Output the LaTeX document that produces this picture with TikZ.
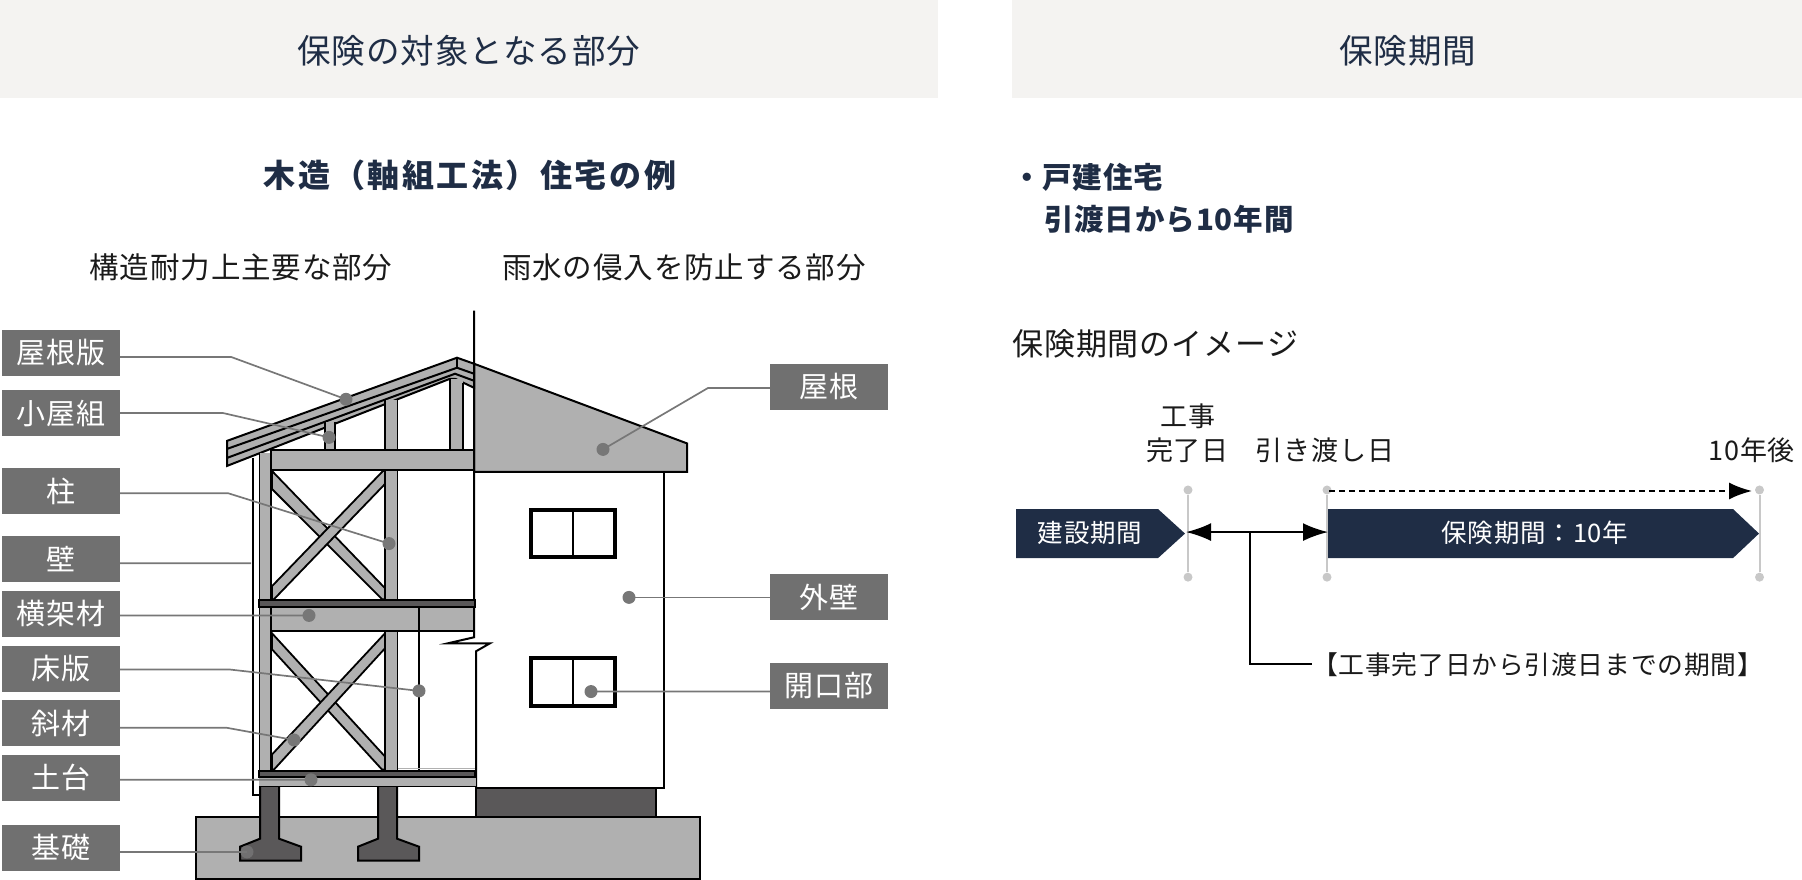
\documentclass[tikz,border=0pt]{standalone}
\usepackage{fontspec}
\usepackage{xcolor}
\usetikzlibrary{arrows.meta}
\setmainfont{Noto Sans CJK JP}
\newfontfamily\jpwide[LetterSpace=8]{Noto Sans CJK JP}
\newfontfamily\jpnarrow[LetterSpace=3]{Noto Sans CJK JP}
\newcommand{\wideat}[1]{\fontsize{#1}{#1}\jpwide}
\newcommand{\narrowat}[1]{\fontsize{#1}{#1}\jpnarrow}
\definecolor{head-bg}{HTML}{F4F3F1}
\definecolor{ink-navy}{HTML}{1F2D45}
\definecolor{ink}{HTML}{1A1A1A}
\definecolor{tag-gray}{HTML}{707070}
\definecolor{lead-gray}{HTML}{777777}
\definecolor{wood}{HTML}{B0B0B0}
\definecolor{concrete}{HTML}{5A5859}
\definecolor{tick-gray}{HTML}{C8C8C8}
\tikzset{
  tag/.style={fill=tag-gray, text=white, minimum width=118pt, minimum height=46pt, inner sep=0pt, font=\narrowat{29}},
  lead/.style={draw=lead-gray, line width=1.7pt},
  leaddot/.style={circle, fill=lead-gray, minimum size=13pt, inner sep=0pt},
  timber/.style={fill=wood, draw=black, line width=2pt, line join=miter},
  stud/.style={fill=wood, draw=none},
  tick/.style={circle, fill=tick-gray, minimum size=9pt, inner sep=0pt},
  term/.style={text=ink, inner sep=0pt, font=\narrowat{27}},
}

\begin{document}
\begin{tikzpicture}[x=1pt, y=-1.002pt, every node/.style={inner sep=0pt}]
    \useasboundingbox (0,0) rectangle (1802,877.25);

    \fill[head-bg] (0,0) rectangle (938,98);
    \fill[head-bg] (1012,0) rectangle (1802,98);
    \node[text=ink-navy, font=\narrowat{33.5}] (head-part) at (469,51) {保険の対象となる部分};
    \node[text=ink-navy, font=\narrowat{33.5}] (head-term) at (1408,51) {保険期間};
    \node[text=ink-navy, font=\wideat{32}\bfseries] (title-wood) at (470,175) {木造（軸組工法）住宅の例};
    \node[text=ink, font=\narrowat{29.5}] (sub-frame) at (241,266.5) {構造耐力上主要な部分};
    \node[text=ink, font=\narrowat{29.5}] (sub-water) at (684,266.5) {雨水の侵入を防止する部分};
    \node[text=ink-navy, anchor=west, font=\narrowat{29.5}\bfseries] (line-house) at (1012,177) {・戸建住宅};
    \node[text=ink-navy, anchor=west, font=\narrowat{29.5}\bfseries] (line-years) at (1044,219) {引渡日から10年間};
    \node[text=ink, anchor=west, font=\narrowat{31}] (image-title) at (1012,343) {保険期間のイメージ};

    % ground and foundation
    \draw[timber] (195.5,815) rectangle (700,877);
    \draw[fill=concrete, draw=black, line width=2pt] (476,786) rectangle (656,815);
    \draw[fill=concrete, draw=black, line width=2pt] (260,785) -- (260,837) -- (240,845) -- (240,859) -- (301,859) -- (301,845) -- (279,837) -- (279,785);
    \draw[fill=concrete, draw=black, line width=2pt] (378,785) -- (378,837) -- (358,845) -- (358,859) -- (419,859) -- (419,845) -- (397,837) -- (397,785);

    % roof and outer wall
    \draw[line width=2pt] (253,457) -- (253,793) -- (260,793);
    \draw[timber] (474,363) -- (687,442.5) -- (687,471) -- (474,471) -- cycle;
    \draw[line width=2pt] (664,471) -- (664,786) -- (476,786);
    \draw[line width=2pt] (474,310) -- (474,636) -- (448,642) -- (490,642) -- (476,650) -- (476,786);

    % rafters
    \draw[timber] (227,440) -- (457,357) -- (474,363) -- (474,387) -- (455,378) -- (450,378) -- (227,465) -- cycle;
    \draw[line width=2pt] (227,448) -- (457,367) -- (474,373);
    \draw[line width=2pt] (227,457) -- (455,373) -- (474,380);
    \draw[line width=1.5pt] (457,357) -- (457,367);

    % posts
    \fill[stud] (325,421) rectangle (335,449);
    \draw[line width=1.5pt] (325,421) -- (325,449) (335,421) -- (335,449);
    \fill[stud] (385,399) rectangle (397,449);
    \draw[line width=1.5pt] (385,399) -- (385,449);
    \draw[line width=1pt] (397,399) -- (397,449);
    \fill[stud] (450,378) rectangle (463,449);
    \draw[line width=1.5pt] (450,378) -- (450,449);
    \draw[line width=1.5pt] (463,382) -- (463,449);
    \fill[stud] (259,452) rectangle (271,785);
    \draw[line width=1pt] (259,452) -- (259,785);
    \fill[stud] (385,469) rectangle (397,768);
    \draw[line width=1pt] (397,469) -- (397,768);

    % braces
    \draw[timber, line width=1.8pt] (272,470) -- (385,587) -- (385,598) -- (382,598) -- (272,488) -- cycle;
    \draw[timber, line width=1.8pt] (272,585) -- (383,470) -- (385,470) -- (385,483) -- (274,598) -- (272,598) -- cycle;
    \draw[timber, line width=1.8pt] (272,632) -- (385,755) -- (385,768) -- (382,768) -- (272,648) -- cycle;
    \draw[timber, line width=1.8pt] (272,753) -- (385,632) -- (385,647) -- (274,768) -- (272,768) -- cycle;

    % beams and sill
    \draw[timber] (271,449) rectangle (474,469);
    \draw[line width=2pt] (271,452) -- (271,785);
    \draw[line width=2pt] (385,469) -- (385,768);
    \draw[timber] (271,606) rectangle (474,630);
    \draw[fill=concrete, draw=black, line width=2pt] (259,598.5) rectangle (475,605.5);
    \draw[line width=1.5pt] (419,606) -- (419,768);
    \draw[draw=wood, line width=1.5pt] (398,767) -- (475,767);
    \fill[wood] (259,775) rectangle (476,785);
    \draw[line width=1.5pt] (259,785) -- (476,785);
    \draw[fill=concrete, draw=black, line width=2pt] (259,769) rectangle (475,775);

    % windows
    \draw[line width=4pt] (531,509) rectangle (615,556);
    \draw[line width=2pt] (573,509) -- (573,556);
    \draw[line width=4pt] (531,657) rectangle (615,705);
    \draw[line width=2pt] (573,657) -- (573,705);

    % labels
    \node[tag] (tag-roofboard) at (61,352.2) {屋根版};
    \node[tag] (tag-truss) at (61,412.2) {小屋組};
    \node[tag] (tag-post) at (61,490.2) {柱};
    \node[tag] (tag-wall) at (61,558.2) {壁};
    \node[tag] (tag-beam) at (61,612.7) {横架材};
    \node[tag] (tag-floor) at (61,667.2) {床版};
    \node[tag] (tag-brace) at (61,721.7) {斜材};
    \node[tag] (tag-sill) at (61,776.2) {土台};
    \node[tag] (tag-base) at (61,846.2) {基礎};
    \node[tag] (tag-roof) at (829,386.2) {屋根};
    \node[tag] (tag-outer) at (829,596.2) {外壁};
    \node[tag] (tag-opening) at (829,684.2) {開口部};

    \node[leaddot] (dot-roofboard) at (346,398.5) {};
    \node[leaddot] (dot-truss) at (329,436.5) {};
    \node[leaddot] (dot-post) at (389,542.5) {};
    \coordinate (dot-wall) at (251,562.2);
    \node[leaddot] (dot-beam) at (309,614.2) {};
    \node[leaddot] (dot-floor) at (419,689.5) {};
    \node[leaddot] (dot-brace) at (294,738.5) {};
    \node[leaddot] (dot-sill) at (311,778.2) {};
    \node[leaddot, fill opacity=0.8] (dot-base) at (247,850.2) {};
    \node[leaddot] (dot-roof) at (603,448.5) {};
    \node[leaddot] (dot-outer) at (629,596.2) {};
    \node[leaddot] (dot-opening) at (591,690.2) {};

    \draw[lead] ([yshift=-4pt]tag-roofboard.east) -- (231,356.2) -- (dot-roofboard.center);
    \draw[lead] (tag-truss.east) -- (223,412.2) -- (dot-truss.center);
    \draw[lead] ([yshift=-2pt]tag-post.east) -- (228,492.2) -- (dot-post.center);
    \draw[lead] ([yshift=-4pt]tag-wall.east) -- (dot-wall);
    \draw[lead] ([yshift=-1.5pt]tag-beam.east) -- (dot-beam.center);
    \draw[lead] ([yshift=-1pt]tag-floor.east) -- (230,668.2) -- (dot-floor.center);
    \draw[lead] ([yshift=-4.5pt]tag-brace.east) -- (226,726.2) -- (dot-brace.center);
    \draw[lead] ([yshift=-2pt]tag-sill.east) -- (dot-sill.center);
    \draw[lead] ([yshift=-4pt]tag-base.east) -- (dot-base.center);
    \draw[lead] ([yshift=-1pt]tag-roof.west) -- (708,387.2) -- (dot-roof.center);
    \draw[lead] (tag-outer.west) -- (dot-outer.center);
    \draw[lead] ([yshift=-6pt]tag-opening.west) -- (dot-opening.center);

    % period
    \fill[ink-navy] (1016,508) -- (1158,508) -- (1185,532.5) -- (1158,557) -- (1016,557) -- cycle;
    \fill[ink-navy] (1327,508) -- (1733,508) -- (1759,532.5) -- (1733,557) -- (1327,557) -- cycle;
    \node[text=white, font=\narrowat{25.5}] (bar-build) at (1090,532) {建設期間};
    \node[text=white, font=\narrowat{25.5}] (bar-cover) at (1535,532) {保険期間：10年};

    \node[tick] (tick-a-top) at (1188,489) {};
    \node[tick] (tick-a-low) at (1188,576) {};
    \node[tick] (tick-b-top) at (1327,489) {};
    \node[tick] (tick-b-low) at (1327,576) {};
    \node[tick] (tick-c-top) at (1759.5,489) {};
    \node[tick] (tick-c-low) at (1759.5,576) {};
    \draw[tick-gray, line width=2pt] (tick-a-top) -- (tick-a-low);
    \draw[tick-gray, line width=2pt] (tick-b-top) -- (tick-b-low);
    \draw[tick-gray, line width=2pt] (tick-c-top) -- (tick-c-low);

    \node[term] (term-work) at (1188,415) {工事};
    \node[term] (term-done) at (1187.5,449) {完了日};
    \node[term] (term-hand) at (1325,449) {引き渡し日};
    \node[term, anchor=east] (term-after) at (1795,449) {10年後};

    \coordinate (span-a) at (1186,531);
    \coordinate (span-b) at (1328,531);
    \coordinate (span-fork) at (1250,531);
    \coordinate (cover-a) at (1329,490);
    \coordinate (cover-b) at (1752,490);
    \node[term, anchor=west, font=\narrowat{25.8}] (term-span) at (1312,663) {【工事完了日から引渡日までの期間】};
    \draw[{Latex[length=25pt,width=18pt]}-{Latex[length=25pt,width=18pt]}, line width=2pt] (span-a) -- (span-b);
    \draw[line width=2pt] (span-fork) |- (term-span.west);
    \draw[dashed, dash pattern=on 6pt off 4pt, line width=2pt, -{Latex[length=23pt,width=17pt]}] (cover-a) -- (cover-b);
  \end{tikzpicture}
\end{document}
